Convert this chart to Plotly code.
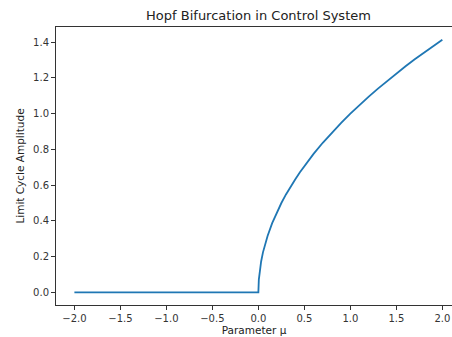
import plotly.graph_objects as go

# Parameter mu values and limit cycle amplitudes
mu = [-2.0, -1.5, -1.0, -0.5, 0.0, 0.005, 0.01, 0.02, 0.03, 0.05, 0.075, 0.1, 0.15, 0.2, 0.25,
      0.3, 0.35, 0.4, 0.45, 0.5, 0.6, 0.7, 0.8, 0.9, 1.0, 1.1, 1.2, 1.3, 1.4, 1.5, 1.6, 1.7,
      1.8, 1.9, 2.0]
amplitude = [0.0, 0.0, 0.0, 0.0, 0.0, 0.071, 0.10, 0.141, 0.173, 0.224, 0.274, 0.316, 0.387,
             0.447, 0.50, 0.548, 0.592, 0.632, 0.671, 0.707, 0.775, 0.837, 0.894, 0.949, 1.0,
             1.049, 1.095, 1.140, 1.183, 1.225, 1.265, 1.304, 1.342, 1.378, 1.414]

x_ticks = [-2.0, -1.5, -1.0, -0.5, 0.0, 0.5, 1.0, 1.5, 2.0]
y_ticks = [0.0, 0.2, 0.4, 0.6, 0.8, 1.0, 1.2, 1.4]

def fmt(v):
    s = f"{v:.1f}"
    return s.replace("-", "\u2212")

fig = go.Figure()
fig.add_trace(go.Scatter(x=mu, y=amplitude, mode="lines",
                         line=dict(color="#1f77b4", width=1.8), showlegend=False))

axis_common = dict(showgrid=False, zeroline=False, showline=True, linecolor="#333333",
                   linewidth=1, ticks="outside", ticklen=4, tickwidth=1, tickcolor="#333333",
                   automargin=False,
                   tickfont=dict(family="DejaVu Sans", size=10, color="#333333"))

W, H = 452, 337
fig.update_layout(
    width=W, height=H,
    margin=dict(l=56, r=0, t=27, b=32),
    paper_bgcolor="white", plot_bgcolor="white",
    title=dict(text="Hopf Bifurcation in Control System", x=258.5 / W, xanchor="center",
               y=1 - 15 / H, yanchor="middle",
               font=dict(family="DejaVu Sans", size=13, color="#222222")),
    xaxis=dict(range=[-2.2, 2.105], tickvals=x_ticks, ticktext=[fmt(v) for v in x_ticks],
               mirror=True,
               title=dict(text="Parameter μ", standoff=1,
                          font=dict(family="DejaVu Sans", size=10.5, color="#222222")),
               **axis_common),
    yaxis=dict(range=[-0.0707, 1.485], tickvals=y_ticks, ticktext=[fmt(v) for v in y_ticks],
               mirror=False,
               title=dict(text="Limit Cycle Amplitude", standoff=6,
                          font=dict(family="DejaVu Sans", size=10.5, color="#222222")),
               **axis_common),
)

# remove the default page margin so the figure sits at the window's top-left corner
fig.write_html("out.html", config={"displayModeBar": False},
               post_script="document.body.style.margin='0';document.body.style.overflow='hidden';")
